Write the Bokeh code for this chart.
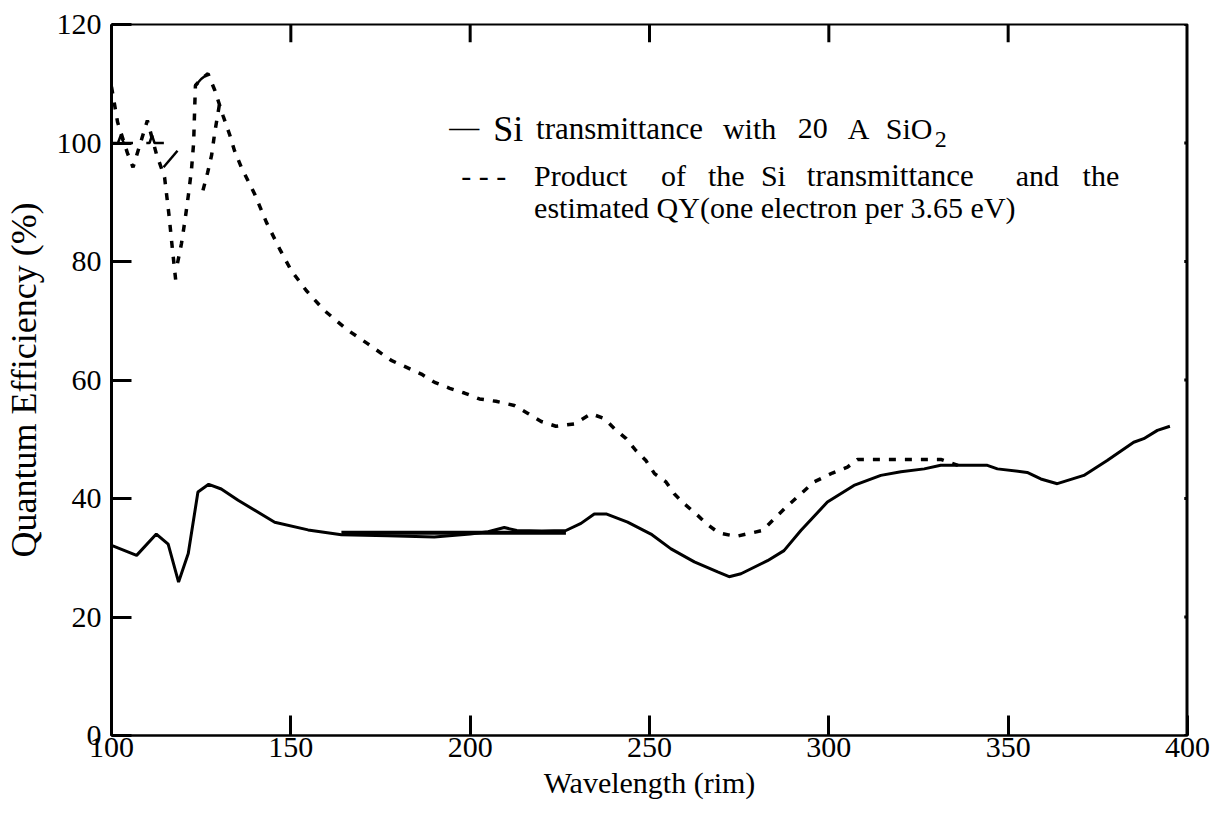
from bokeh.plotting import figure
from bokeh.models import Range1d, FixedTicker, Label, Span
from bokeh.embed import file_html
from bokeh.resources import INLINE

# ---------------- data ----------------
# Si transmittance with 20 A SiO2 (solid)
si_wl = [100, 107, 112.5, 115.8, 118.7, 121.4, 124.1, 127.1, 130.6, 135.3,
         145.5, 154.8, 164.1, 177, 190, 200, 205, 209.5, 213, 220, 226.7,
         230.9, 234.6, 237.9, 243.9, 250.4, 256.0, 262.5, 269.0, 272.2, 275.5,
         282.9, 287.5, 292.2, 299.6, 307.0, 314.5, 320.1, 326.6, 331.2, 344.2,
         347.0, 355.3, 359.1, 363.7, 371.1, 377.6, 385.0, 387.8, 391.6, 395.1]
si_qe = [32.1, 30.4, 34.0, 32.3, 25.9, 30.7, 41.1, 42.4, 41.6, 39.7,
         36.0, 34.7, 33.9, 33.7, 33.5, 34.0, 34.4, 35.1, 34.6, 34.5, 34.6,
         35.8, 37.4, 37.4, 36.0, 34.0, 31.5, 29.3, 27.6, 26.8, 27.3,
         29.5, 31.2, 34.6, 39.4, 42.2, 43.9, 44.5, 45.0, 45.6, 45.6,
         45.0, 44.4, 43.3, 42.5, 43.9, 46.4, 49.5, 50.1, 51.5, 52.2]
# straight ruled segment overlaid on the solid curve
flat_wl = [164.1, 226.7]
flat_qe = [34.2, 34.2]

# Product of Si transmittance and estimated QY (dashed)
prod_a_wl = [100, 101.7, 104.5, 106, 110, 112.5, 114.8, 116, 117, 118.1]
prod_a_qe = [109.5, 103.5, 98.2, 95.9, 103.8, 98.2, 94.2, 88.0, 82.0, 75.7]
prod_b_wl = [118.4, 119.5, 120.5, 121.5, 122.3, 122.9, 123.2, 123.4, 125, 126.9,
             128.8, 131.1, 133, 134.3, 136.2, 139.9, 143.2, 146.9, 150.1, 154.3,
             159.4, 165.9, 171.5, 178, 186.4, 190.1, 194.3, 198.4, 202.6, 207.2,
             212.3, 216, 219.8, 223.9, 229.1, 233.7, 237.4, 240.2, 243.5, 246.2,
             249, 251.4, 254.6, 256.9, 259.7, 263, 266, 269.3, 274.1, 281.5,
             288, 295.9, 301, 305.2, 308, 320, 331.2, 336]
prod_b_qe = [79.7, 83.0, 87.0, 91.5, 95.5, 100.0, 106.0, 109.7, 110.8, 111.7,
             108.9, 104.6, 101.3, 98.7, 95.9, 91.4, 86.6, 82.1, 78.5, 75.1,
             71.7, 68.4, 66.1, 63.3, 61.0, 59.6, 58.6, 57.8, 56.8, 56.4,
             55.7, 54.4, 53.0, 52.2, 52.6, 54.3, 53.5, 51.8, 50.1, 48.1,
             46.4, 44.2, 42.8, 40.8, 39.1, 37.4, 35.7, 34.2, 33.6, 34.6,
             38.5, 42.8, 44.3, 45.3, 46.6, 46.6, 46.6, 45.6]
prod_c_wl = [125.5, 126.8, 127.9, 128.8, 130.2]
prod_c_qe = [92.0, 95.0, 97.9, 101.8, 106.9]
# short solid pieces in the product trace
cap1_wl = [100, 101.8, 102.6, 103.4, 106]
cap1_qe = [100, 100, 101.3, 100, 100]
cap2_wl = [109.7, 110.6, 111.3, 112, 114.6]
cap2_qe = [100, 100, 101.3, 100, 100]
rise_wl = [114.5, 118.4]
rise_qe = [95.9, 98.7]
peak_wl = [123.4, 125, 126.9]
peak_qe = [109.7, 110.8, 111.7]

x_ticks = [100, 150, 200, 250, 300, 350, 400]
y_ticks = [0, 20, 40, 60, 80, 100, 120]

FONT = "Liberation Serif"

p = figure(width=1212, height=816, output_backend="svg", toolbar_location=None,
           x_range=Range1d(100, 400), y_range=Range1d(0, 120),
           min_border_left=110, min_border_right=25, min_border_top=24,
           min_border_bottom=81, x_axis_label="Wavelength (rim)",
           y_axis_label="Quantum Efficiency (%)")
p.background_fill_color = "white"
p.border_fill_color = "white"
p.outline_line_color = "black"
p.outline_line_width = 2
p.xgrid.visible = False
p.ygrid.visible = False

for ax in (p.xaxis[0], p.yaxis[0]):
    ax.major_label_text_font = FONT
    ax.major_label_text_font_size = "30px"
    ax.major_label_text_color = "black"
    ax.axis_label_text_font = FONT
    ax.axis_label_text_font_style = "normal"
    ax.axis_label_text_color = "black"
    ax.axis_line_color = "black"
    ax.major_tick_line_color = "black"
    ax.major_tick_line_width = 3
    ax.major_tick_in = 20
    ax.major_tick_out = 0
    ax.minor_tick_line_color = None

p.xaxis[0].ticker = FixedTicker(ticks=x_ticks)
p.yaxis[0].ticker = FixedTicker(ticks=y_ticks)
p.xaxis[0].axis_line_width = 2
p.yaxis[0].axis_line_width = 3
p.xaxis[0].axis_label_text_font_size = "30px"
p.yaxis[0].axis_label_text_font_size = "36px"
p.xaxis[0].major_label_standoff = 2
p.xaxis[0].axis_label_standoff = 6
p.yaxis[0].major_label_standoff = 10
p.yaxis[0].axis_label_standoff = 10

# thick right frame edge
p.add_layout(Span(location=400, dimension="height", line_color="black", line_width=4))

# inward ticks on top and right frame edges
top_len = 3.0          # in data units (~18 px)
right_len = 0.9        # in data units (~3 px)
p.segment(x0=x_ticks, y0=[120] * len(x_ticks), x1=x_ticks,
          y1=[120 - top_len] * len(x_ticks), line_color="black", line_width=3)
p.segment(x0=[400] * len(y_ticks), y0=y_ticks, x1=[400 - right_len] * len(y_ticks),
          y1=y_ticks, line_color="black", line_width=3)

# solid curve
p.line(si_wl, si_qe, line_color="black", line_width=3)
p.line(flat_wl, flat_qe, line_color="black", line_width=4)

# dashed curve
for wl, qe in ((prod_a_wl, prod_a_qe), (prod_b_wl, prod_b_qe), (prod_c_wl, prod_c_qe)):
    p.line(wl, qe, line_color="black", line_width=3.5, line_dash="7 9")
for wl, qe in ((cap1_wl, cap1_qe), (cap2_wl, cap2_qe), (rise_wl, rise_qe), (peak_wl, peak_qe)):
    p.line(wl, qe, line_color="black", line_width=2.5)

# ---------------- legend text (positions in pixels, converted) ----------------
def dx(px):
    return 100 + (px - 110) / 3.59

def dy(py):
    return (735 - py) / 5.925

def word(px, py, txt, size=30):
    p.add_layout(Label(x=dx(px), y=dy(py), text=txt, text_font=FONT,
                       text_font_size=f"{size}px", text_color="black",
                       text_baseline="alphabetic", text_align="left"))

# line 1
word(448, 126, "\u2014")
word(492, 128, "Si", 36)
word(535, 128, "transmittance", 31)
word(722, 128, "with")
word(797, 128, "20")
word(847, 128, "A")
word(885, 128, "SiO")
word(934, 139, "2", 24)
# line 2
word(460, 175, "- - -")
word(533, 175, "Product")
word(660, 175, "of")
word(707, 175, "the")
word(760, 175, "Si")
word(806, 175, "transmittance", 31)
word(1015, 175, "and")
word(1082, 175, "the")
# line 3
word(533, 207, "estimated QY(one electron per 3.65 eV)")

open("out.html", "w").write(file_html(p, INLINE))
